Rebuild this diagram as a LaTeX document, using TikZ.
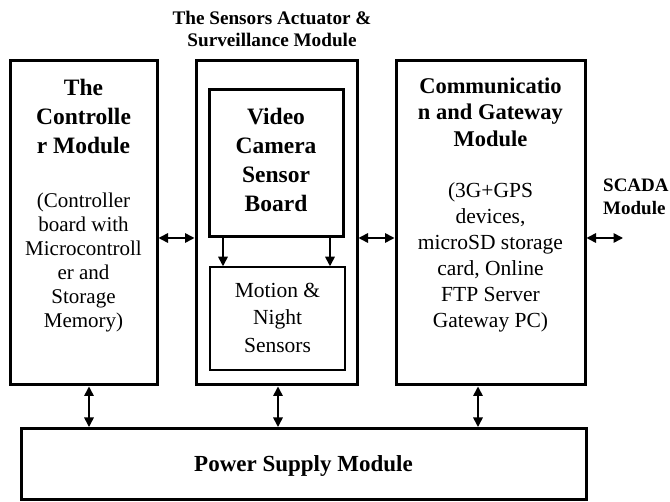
\documentclass[tikz,border=0pt]{standalone}
\usepackage{fontspec}
\setmainfont{Liberation Serif}
\usetikzlibrary{arrows.meta}
\begin{document}
\begin{tikzpicture}[x=1pt,y=-1pt,
  box/.style={draw, line width=3pt, inner sep=0pt},
  thinbox/.style={draw, line width=1.5pt, inner sep=0pt},
  head/.style={align=center, inner sep=0pt, font=\fontsize{23.5}{28.7}\selectfont\bfseries},
  body/.style={align=center, inner sep=0pt, font=\fontsize{21}{24}\selectfont},
  small/.style={align=center, inner sep=0pt, font=\fontsize{19.2}{22}\selectfont\bfseries},
  both/.style={line width=1.6pt, {Triangle[length=9.5pt,width=9.5pt]}-{Triangle[length=9.5pt,width=9.5pt]}},
  down/.style={line width=1.6pt, -{Triangle[length=9.5pt,width=9.5pt]}}]
\useasboundingbox (0,0) rectangle (670,502);
% boxes
\node[box, minimum width=147pt, minimum height=324pt] (ctrl) at (83.5,223) {};
\node[box, minimum width=161pt, minimum height=324pt] (sens) at (276.5,223) {};
\node[box, minimum width=134pt, minimum height=147pt] (video) at (276,163.5) {};
\node[thinbox, minimum width=135pt, minimum height=103pt] (motion) at (277.5,318.5) {};
\node[box, minimum width=189pt, minimum height=324pt] (comm) at (490.5,223) {};
\node[box, minimum width=565pt, minimum height=71pt] (power) at (303.5,464) {};
% texts
\node[small] (title) at (272,29) {The Sensors Actuator \&\\Surveillance Module};
\node[head] (ctrlh) at (83.5,116.5) {The\\Controlle\\r Module};
\node[body] (ctrlb) at (83.5,262.5) {(Controller\\board with\\Microcontroll\\er and\\Storage\\Memory)};
\node[head] (videoh) at (276,160) {Video\\Camera\\Sensor\\Board};
\node[body, font=\fontsize{21.5}{27.5}\selectfont] (motiont) at (277.5,317.5) {Motion \&\\Night\\Sensors};
\node[head, font=\fontsize{22.5}{26.5}\selectfont\bfseries] (commh) at (490.5,112) {Communicatio\\n and Gateway\\Module};
\node[body, font=\fontsize{21.5}{26}\selectfont] (commb) at (490.5,257.5) {(3G+GPS\\devices,\\microSD storage\\card, Online\\FTP Server\\Gateway PC)};
\node[small, align=left, anchor=west, font=\fontsize{19}{23}\selectfont\bfseries] (scada) at (603,196.5) {SCADA\\Module};
\node[head, font=\fontsize{23}{26}\selectfont\bfseries] (powert) at (303.5,466) {Power Supply Module};
% connector rows
\coordinate (hrow) at (0,238);
\coordinate (scend) at (623,238);
\coordinate (v1) at (89,0);
\coordinate (v2) at (278,0);
\coordinate (v3) at (478,0);
\coordinate (d1) at (223,0);
\coordinate (d2) at (330,0);
\draw[both] (ctrl.east |- hrow) -- (sens.west |- hrow);
\draw[both] (sens.east |- hrow) -- (comm.west |- hrow);
\draw[both] (comm.east |- hrow) -- (scend);
\draw[both] (ctrl.south -| v1) -- (power.north -| v1);
\draw[both] (sens.south -| v2) -- (power.north -| v2);
\draw[both] (comm.south -| v3) -- (power.north -| v3);
\draw[down] (video.south -| d1) -- (motion.north -| d1);
\draw[down] (video.south -| d2) -- (motion.north -| d2);
\end{tikzpicture}
\end{document}
